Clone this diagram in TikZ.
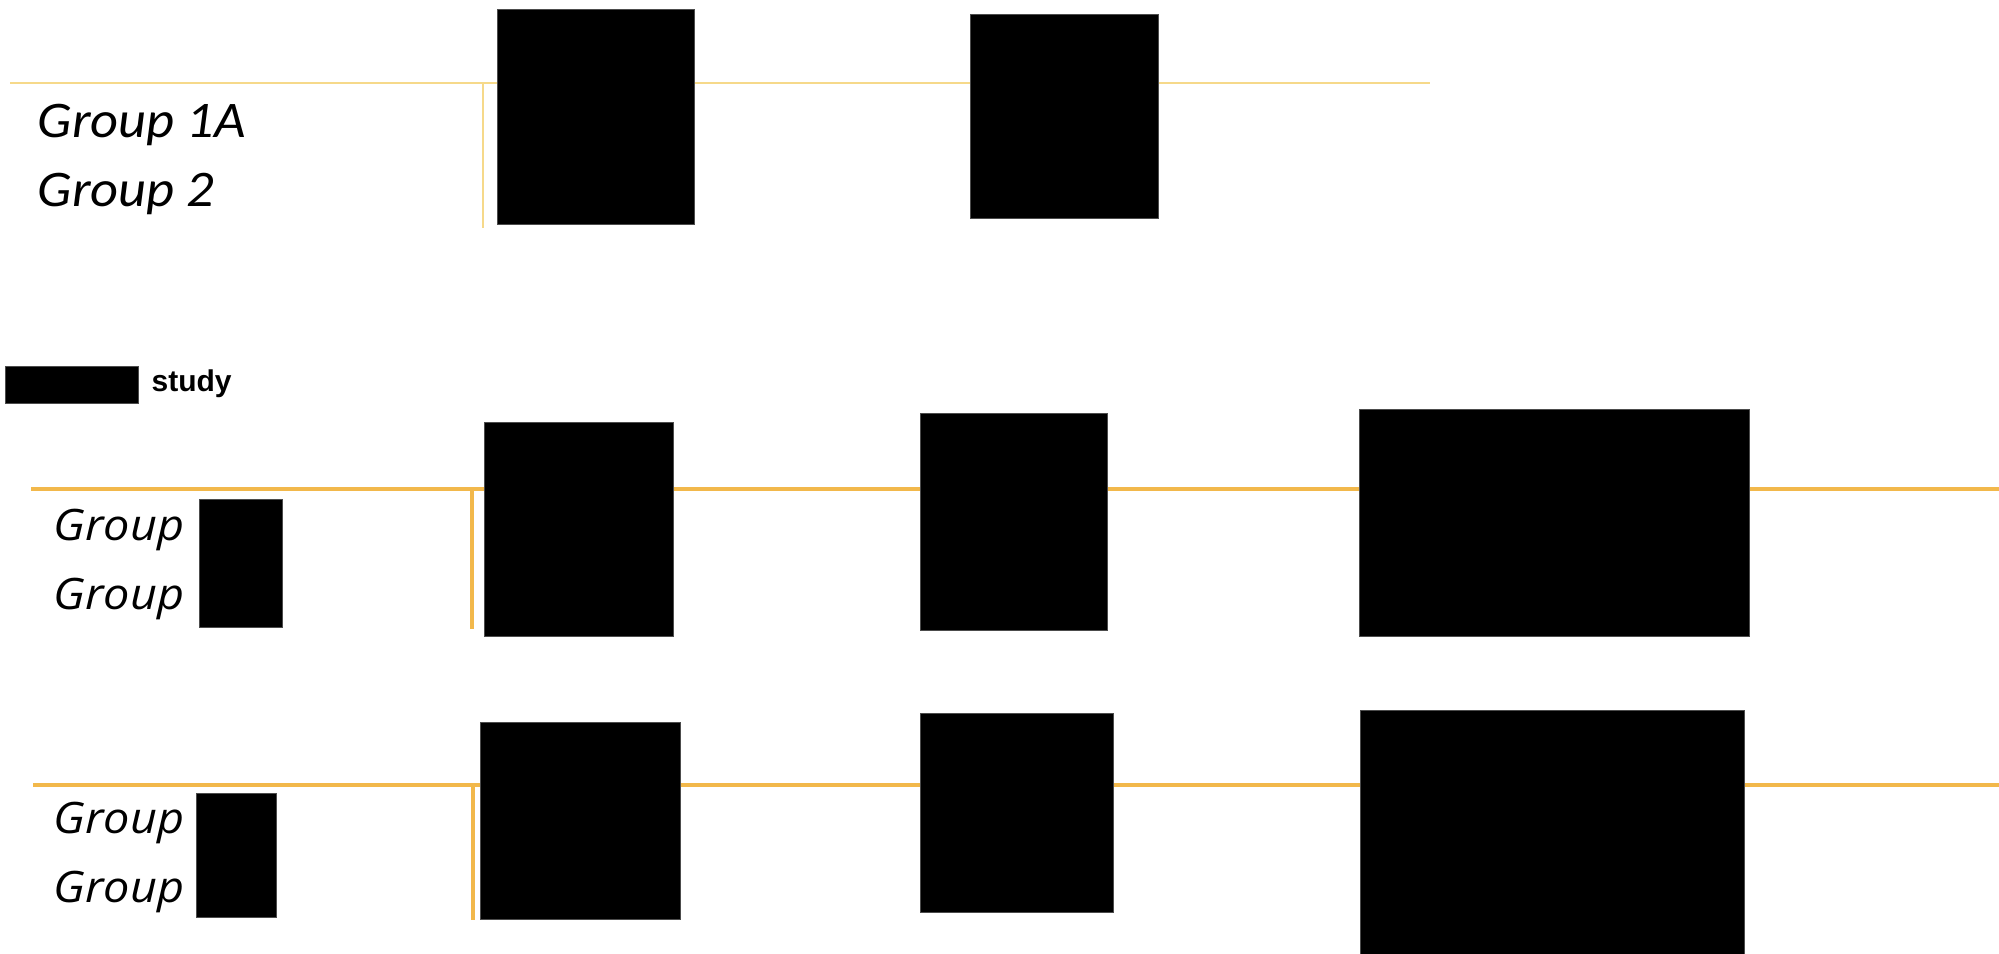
\documentclass[tikz,border=0pt]{standalone}
\usepackage{fontspec}
\setmainfont{Carlito}
\newfontfamily\grpfont{Open Sans}
\newfontfamily\titlefont{Liberation Sans}
\definecolor{lineA}{HTML}{F6D98A}
\definecolor{lineB}{HTML}{F2B84B}
\begin{document}
\begin{tikzpicture}[x=0.3pt,y=-0.3pt,
  redact/.style={fill=black,draw=black!70,line width=0.2pt},
  thinline/.style={draw=lineA,line width=0.75pt},
  thickline/.style={draw=lineB,line width=1.1pt},
  toplabel/.style={anchor=base west,inner sep=0pt,font=\fontsize{15.4}{17}\selectfont\itshape},
  grplabel/.style={anchor=base west,inner sep=0pt,font=\grpfont\fontsize{13}{15}\selectfont\itshape},
  studylabel/.style={anchor=base west,inner sep=0pt,font=\titlefont\fontsize{9}{10}\selectfont\bfseries}]
\useasboundingbox[fill=white] (0,0) rectangle (1999,954);

% ---------- top section ----------
\coordinate (t0) at (10,83);
\coordinate (t1) at (1430,83);
\coordinate (tv0) at (483,83);
\coordinate (tv1) at (483,228);
\draw[thinline] (t0) -- (t1);
\draw[thinline] (tv0) -- (tv1);
\node[redact,minimum width=197*0.3pt,minimum height=215*0.3pt,inner sep=0pt] (tb1) at (595.5,117) {};
\node[redact,minimum width=188*0.3pt,minimum height=204*0.3pt,inner sep=0pt] (tb2) at (1064,116) {};
\node[toplabel] (tg1) at (37,138) {\scalebox{1.06}[1]{Group 1A}};
\node[toplabel] (tg2) at (37,207) {\scalebox{1.06}[1]{Group 2}};

% ---------- middle section ----------
\node[redact,minimum width=133*0.3pt,minimum height=37*0.3pt,inner sep=0pt] (sr) at (71.5,384.5) {};
\node[studylabel] (st) at (151,392) {study};
\coordinate (m0) at (31,489);
\coordinate (m1) at (1999,489);
\coordinate (mv0) at (472,489);
\coordinate (mv1) at (472,629);
\draw[thickline] (m0) -- (m1);
\draw[thickline] (mv0) -- (mv1);
\node[redact,minimum width=189*0.3pt,minimum height=214*0.3pt,inner sep=0pt] (mb1) at (578.5,529) {};
\node[redact,minimum width=187*0.3pt,minimum height=217*0.3pt,inner sep=0pt] (mb2) at (1013.5,521.5) {};
\node[redact,minimum width=390*0.3pt,minimum height=227*0.3pt,inner sep=0pt] (mb3) at (1554,522.5) {};
\node[grplabel] (mg1) at (53,541) {\scalebox{1.08}[1]{Group}};
\node[grplabel] (mg2) at (53,610) {\scalebox{1.08}[1]{Group}};
\node[redact,minimum width=83*0.3pt,minimum height=128*0.3pt,inner sep=0pt] (mr) at (240.5,563) {};

% ---------- bottom section ----------
\coordinate (b0) at (33,785);
\coordinate (b1) at (1999,785);
\coordinate (bv0) at (473,785);
\coordinate (bv1) at (473,920);
\draw[thickline] (b0) -- (b1);
\draw[thickline] (bv0) -- (bv1);
\node[redact,minimum width=200*0.3pt,minimum height=197*0.3pt,inner sep=0pt] (bb1) at (580,820.5) {};
\node[redact,minimum width=193*0.3pt,minimum height=199*0.3pt,inner sep=0pt] (bb2) at (1016.5,812.5) {};
\node[redact,minimum width=384*0.3pt,minimum height=244*0.3pt,inner sep=0pt] (bb3) at (1552,832) {};
\node[grplabel] (bg1) at (53,834) {\scalebox{1.08}[1]{Group}};
\node[grplabel] (bg2) at (53,903) {\scalebox{1.08}[1]{Group}};
\node[redact,minimum width=80*0.3pt,minimum height=124*0.3pt,inner sep=0pt] (br) at (236,855) {};
\end{tikzpicture}
\end{document}
